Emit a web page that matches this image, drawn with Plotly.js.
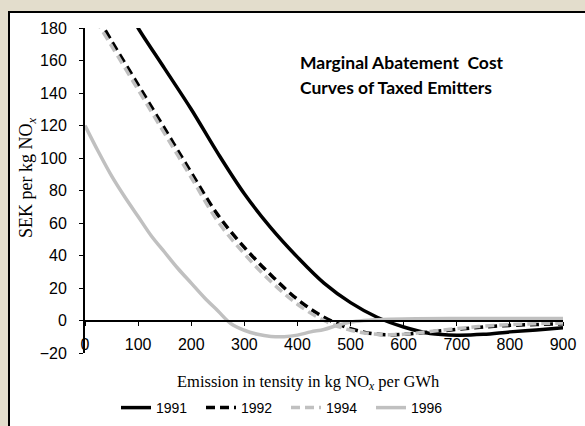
<!DOCTYPE html>
<html>
<head>
    <script src="https://cdn.plot.ly/plotly-3.0.1.min.js"></script>
    <style>
        body { margin: 0; background: #e3ddcc; }
        #panel {
            position: absolute; left: 8px; top: 11px; width: 600px; height: 440px;
            background: #ffffff; border-left: 2px solid #000; border-top: 2px solid #000;
        }
        #macPlot { position: absolute; left: 0; top: 0; width: 585px; height: 426px; }
    </style>
</head>
<body>
    <div id="panel"></div>
    <div id="macPlot"></div>

    <script>
        // emission intensity (kg NOx per GWh) and marginal cost (SEK per kg NOx)
        const x1991 = [90, 100, 150, 200, 250, 300, 350, 400, 450, 500, 550, 600, 650, 700, 750, 800, 850, 900];
        const y1991 = [186, 180, 155, 130, 103, 78, 57, 39, 23, 11, 2, -4, -8, -9, -8.5, -7, -5.8, -4.5];

        const x1992 = [25, 50, 100, 150, 200, 250, 300, 350, 400, 450, 500, 550, 600, 650, 700, 750, 800, 850, 900];
        const y1992 = [186, 172, 145, 118, 91, 65, 45, 28, 13, 2, -5, -8.5, -8.5, -7, -5.5, -4, -3, -2.5, -2];

        const x1994 = [20, 50, 100, 150, 200, 250, 300, 350, 400, 450, 500, 550, 600, 650, 700, 750, 800, 850, 900];
        const y1994 = [185, 169, 142, 115, 88, 61, 41, 24, 10, 0, -6, -8.5, -8.5, -6.7, -5, -3.5, -2.5, -2, -1.5];

        const x1996 = [0, 25, 50, 75, 100, 125, 150, 175, 200, 225, 250, 275, 300, 325, 350, 375, 400, 425, 450, 475, 500, 525, 550, 600, 700, 800, 900];
        const y1996 = [120, 104, 89, 76, 64, 52, 42, 32, 23, 14, 6, -2, -6, -8.5, -9.8, -10, -9, -7, -5.5, -3, -1, 0, 0.5, 1, 1.2, 1.2, 1.2];

        const grey = '#c0c0c0';

        const data = [
            {x: x1991, y: y1991, name: '1991', mode: 'lines',
             line: {color: '#000000', width: 3.5, shape: 'spline'}},
            {x: x1992, y: y1992, name: '1992', mode: 'lines',
             line: {color: '#000000', width: 3.5, dash: '9px,5px', shape: 'spline'}},
            {x: x1994, y: y1994, name: '1994', mode: 'lines',
             line: {color: grey, width: 3.5, dash: '9px,5px', shape: 'spline'}},
            {x: x1996, y: y1996, name: '1996', mode: 'lines',
             line: {color: grey, width: 3.5, shape: 'spline'}}
        ];

        const tickFont = {family: 'Liberation Sans', size: 16, color: '#000'};
        const serif = 'Liberation Serif';

        const layout = {
            width: 585,
            height: 426,
            margin: {l: 85, r: 22, t: 28, b: 73},
            paper_bgcolor: 'rgba(0,0,0,0)',
            plot_bgcolor: 'rgba(0,0,0,0)',
            showlegend: true,
            legend: {
                orientation: 'h',
                xref: 'container', yref: 'container',
                x: 116 / 585, xanchor: 'left',
                y: (426 - 408) / 426, yanchor: 'middle',
                entrywidth: 40,
                font: {family: 'Liberation Sans', size: 14, color: '#000'},
                bgcolor: 'rgba(0,0,0,0)'
            },
            xaxis: {
                range: [0, 900],
                dtick: 100,
                anchor: 'free',
                position: 0.1,
                showgrid: false,
                zeroline: false,
                showline: true,
                linecolor: '#000',
                linewidth: 2,
                ticks: 'outside',
                ticklen: 4,
                tickcolor: '#000',
                ticklabelstandoff: 5,
                tickfont: tickFont
            },
            yaxis: {
                range: [-20, 180],
                dtick: 20,
                showgrid: false,
                zeroline: false,
                showline: true,
                linecolor: '#000',
                linewidth: 2,
                ticks: 'outside',
                ticklen: 4,
                tickcolor: '#000',
                ticklabelstandoff: 9,
                tickfont: tickFont
            },
            annotations: [
                {
                    xref: 'paper', yref: 'paper',
                    x: (308 - 85) / 478, xanchor: 'center',
                    y: (353 - 382) / 325, yanchor: 'middle',
                    text: 'Emission in tensity in kg NO<sub><i>x</i></sub> per GWh',
                    showarrow: false,
                    font: {family: serif, size: 16.5, color: '#000'}
                },
                {
                    xref: 'paper', yref: 'paper',
                    x: (27 - 85) / 478, xanchor: 'center',
                    y: (353 - 178) / 325, yanchor: 'middle',
                    text: 'SEK per kg NO<sub><i>x</i></sub>',
                    textangle: -90,
                    showarrow: false,
                    font: {family: serif, size: 18, color: '#000'}
                },
                {
                    xref: 'paper', yref: 'paper',
                    x: (298 - 85) / 478, xanchor: 'left',
                    y: (353 - 63) / 325, yanchor: 'middle',
                    text: '<b>Marginal Abatement  Cost</b>',
                    showarrow: false,
                    font: {family: 'Lato', size: 17.5, color: '#000'}
                },
                {
                    xref: 'paper', yref: 'paper',
                    x: (298 - 85) / 478, xanchor: 'left',
                    y: (353 - 87) / 325, yanchor: 'middle',
                    text: '<b>Curves of Taxed Emitters</b>',
                    showarrow: false,
                    font: {family: 'Lato', size: 17.5, color: '#000'}
                }
            ]
        };

        Plotly.newPlot('macPlot', data, layout, {displayModeBar: false});
    </script>
</body>
</html>
